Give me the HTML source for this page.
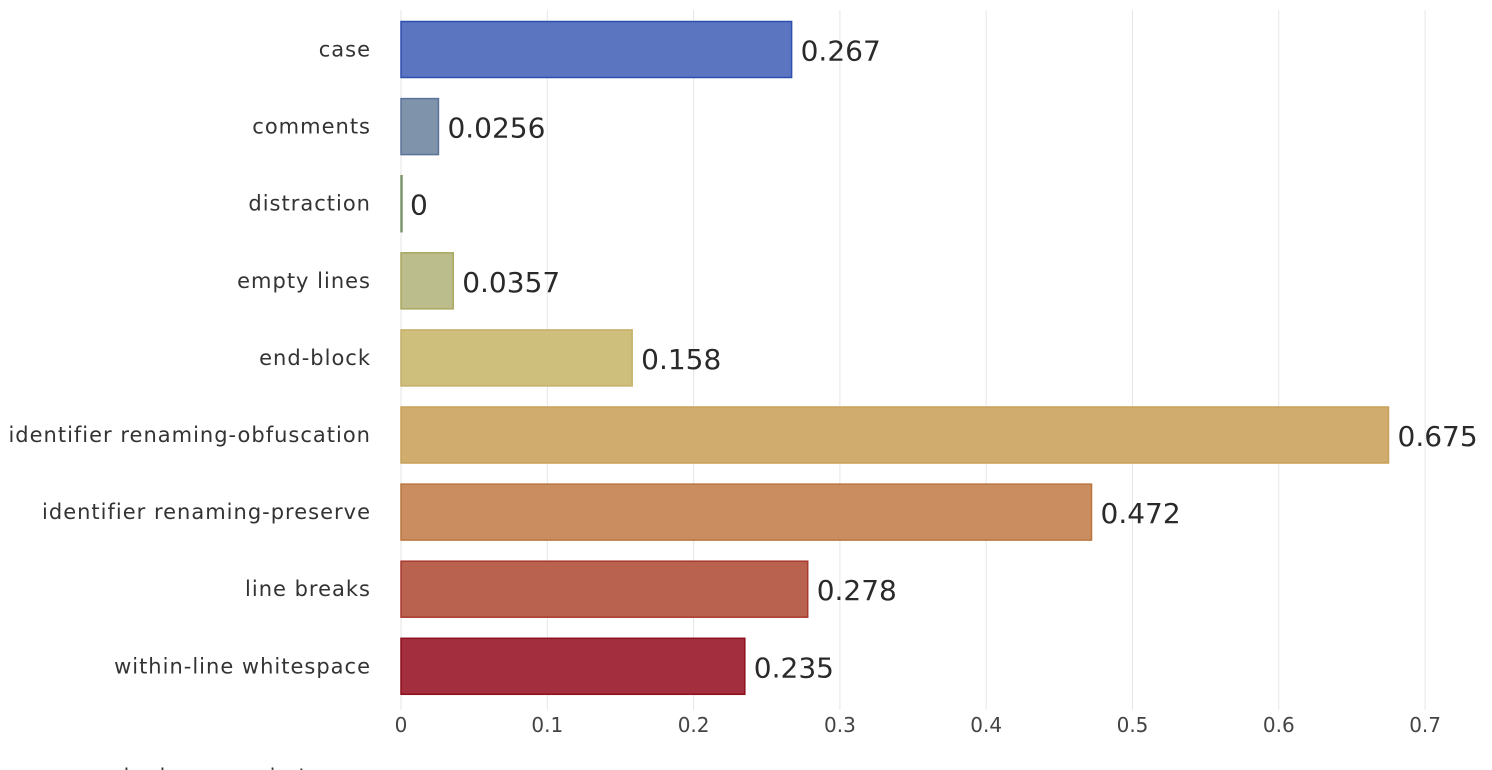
<!DOCTYPE html>
<html><head><meta charset="utf-8"><style>
html,body{margin:0;padding:0;background:#fff;width:1492px;height:770px;overflow:hidden}
svg{display:block;font-family:"DejaVu Sans","Liberation Sans",sans-serif}
</style></head><body>
<svg id="chart" width="1492" height="770">
<g id="grid"></g>
<g id="bars"></g>
<g id="ylab"></g>
<g id="xlab"></g>
<text x="58" y="783" font-size="20" fill="#333">error checker per project</text>
</svg>
<script>
const categories=["case","comments","distraction","empty lines","end-block","identifier renaming-obfuscation","identifier renaming-preserve","line breaks","within-line whitespace"];
const values=[0.267,0.0256,0,0.0357,0.158,0.675,0.472,0.278,0.235];
const valueLabels=["0.267","0.0256","0","0.0357","0.158","0.675","0.472","0.278","0.235"];
const ticks=[0,0.1,0.2,0.3,0.4,0.5,0.6,0.7];
const fills=["#5b75c0","#7f93ab","#a1b08f","#bcbd8c","#cfbf7c","#d0ad6f","#c98d5f","#b8624f","#a32f3e"];
const strokes=["#2e4fb0","#5a7298","#7f9570","#a9a760","#c4b069","#c8a15a","#b9773f","#a83a30","#8e0f1f"];
const NS="http://www.w3.org/2000/svg";
const x=v=>401+v*1463;
const yc=i=>49.5+i*77.1;
const bh=56;
function mk(t,a){const e=document.createElementNS(NS,t);for(const k in a)e.setAttribute(k,a[k]);return e;}
const grid=document.getElementById('grid'),bars=document.getElementById('bars'),yl=document.getElementById('ylab'),xl=document.getElementById('xlab');
ticks.forEach((t,i)=>{
 const l=mk('line',{x1:x(t),x2:x(t),y1:10,y2:710,stroke:'#e6e6e6','stroke-width':1});
 
 
 grid.appendChild(l);
 const tx=mk('text',{x:x(t),y:732,'font-size':20,fill:'#444','text-anchor':'middle'});
 tx.textContent=String(t);
 
 
 xl.appendChild(tx);
});
categories.forEach((c,i)=>{
 const w=Math.max(x(values[i])-x(0),1);
 const r=mk('rect',{x:x(0),y:yc(i)-bh/2,width:w,height:bh,fill:fills[i],stroke:strokes[i],'stroke-width':1.5});
 
 
 bars.appendChild(r);
 const v=mk('text',{x:x(values[i])+9,y:yc(i)+11,'font-size':28,fill:'#2a2a2a'});
 v.textContent=valueLabels[i];
 
 
 bars.appendChild(v);
 const t=mk('text',{x:371,y:yc(i)+7,'font-size':21,fill:'#333','text-anchor':'end','letter-spacing':1});
 t.textContent=c;
 
 
 yl.appendChild(t);
});
</script>
</body></html>
